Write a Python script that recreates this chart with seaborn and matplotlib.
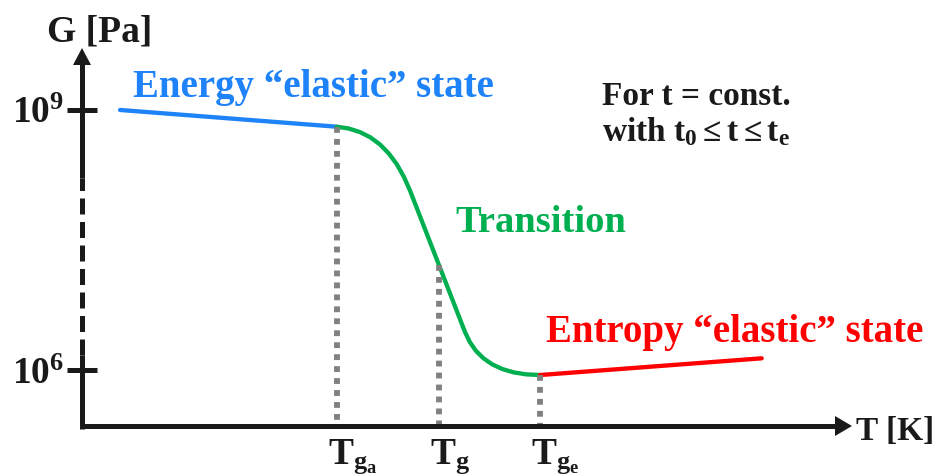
import numpy as np
import pandas as pd
import matplotlib
matplotlib.use("Agg")
import matplotlib.pyplot as plt
import seaborn as sns

# ---------------- data (T in arbitrary units, log10 of G in Pa) ----------------
T_energy = [4.94, 33.08]
logG_energy = [9.0, 8.807]

T_transition = [33.08, 34.64, 36.10, 37.45, 38.70, 39.83, 40.86, 41.78, 42.60,
                49.74, 50.37, 51.16, 52.13, 53.26, 54.56, 56.03, 57.67, 59.48]
logG_transition = [8.807, 8.786, 8.745, 8.684, 8.602, 8.499, 8.377, 8.233, 8.070,
                   6.438, 6.322, 6.221, 6.136, 6.066, 6.012, 5.973, 5.950, 5.942]

T_entropy = [59.48, 88.27]
logG_entropy = [5.942, 6.135]

T_marks = [33.08, 46.36, 59.48]
T_mark_labels = [r"$T_{g_a}$", r"$T_g$", r"$T_{g_e}$"]

y_ticks = [6, 9]
y_tick_labels = [r"$10^6$", r"$10^9$"]

label_energy = "Energy \u201celastic\u201d state"
label_transition = "Transition"
label_entropy = "Entropy \u201celastic\u201d state"
note_line1 = "For t = const."
note_line2 = r"with $t_0 \leq t \leq t_e$"
y_title = "G [Pa]"
x_title = "T [K]"

# ---------------- style ----------------
sns.set_theme(style="white")
plt.rcParams["font.family"] = ["Liberation Serif", "DejaVu Serif"]
plt.rcParams["font.weight"] = "bold"
plt.rcParams["mathtext.fontset"] = "custom"
plt.rcParams["mathtext.rm"] = "Liberation Serif:bold"
plt.rcParams["mathtext.it"] = "Liberation Serif:bold"
plt.rcParams["mathtext.bf"] = "Liberation Serif:bold"

BLUE = "#1E82F8"
GREEN = "#00B050"
RED = "#FF0000"
GRAY = "#808080"

W, H = 944, 475
fig = plt.figure(figsize=(W / 100, H / 100), dpi=100)
# origin at pixel (82, 426), x arrow tip at 852, y arrow tip at 48
ax = fig.add_axes([82 / W, (H - 426) / H, 770 / W, 378 / H])
x_min, x_max = 0, 100
y_min, y_max = 5.354, 9.715
ax.set_xlim(x_min, x_max)
ax.set_ylim(y_min, y_max)
for s in ax.spines.values():
    s.set_visible(False)

px_x = 770 / (x_max - x_min)   # pixels per x unit
px_y = 378 / (y_max - y_min)   # pixels per y unit

# ---------------- curves ----------------
lw_curve = 3.1
sns.lineplot(x=T_energy, y=logG_energy, ax=ax, color=BLUE, lw=lw_curve, sort=False, zorder=3)
sns.lineplot(x=T_transition, y=logG_transition, ax=ax, color=GREEN, lw=lw_curve, sort=False, zorder=3)
sns.lineplot(x=T_entropy, y=logG_entropy, ax=ax, color=RED, lw=lw_curve, sort=False, zorder=3)

# ---------------- dotted verticals ----------------
tops = [logG_energy[-1],
        float(np.interp(T_marks[1], T_transition, logG_transition)),
        logG_entropy[0]]
for xm, top in zip(T_marks, tops):
    ax.plot([xm, xm], [top, y_min], color=GRAY, lw=4.2, linestyle=(0, (1, 1.05)),
            solid_capstyle="butt", dash_capstyle="butt", zorder=4, clip_on=False)

# ---------------- axes with arrows ----------------
lw_axis = 3.6
arrow_len = 17  # px
ybreak_lo = 6 + 15 / px_y     # start of dashed part (pixel 355)
ybreak_hi = 9 - 68 / px_y     # end of dashed part (pixel 178)
y_arrow_base = y_max - arrow_len / px_y
x_arrow_base = x_max - arrow_len / px_x

ax.plot([x_min, x_min], [y_min - 2.5 / px_y, ybreak_lo], color="k", lw=lw_axis,
        solid_capstyle="butt", clip_on=False, zorder=5)
ax.plot([x_min, x_min], [ybreak_lo, ybreak_hi], color="k", lw=lw_axis,
        linestyle=(0, (3.2, 1.5)), dash_capstyle="butt", clip_on=False, zorder=5)
ax.plot([x_min, x_min], [ybreak_hi, y_arrow_base + 1 / px_y], color="k", lw=lw_axis,
        solid_capstyle="butt", clip_on=False, zorder=5)
ax.plot([x_min - 2.5 / px_x, x_arrow_base + 1 / px_x], [y_min, y_min], color="k", lw=lw_axis,
        solid_capstyle="butt", clip_on=False, zorder=5)

ax.fill([x_min - 9 / px_x, x_min + 9 / px_x, x_min],
        [y_arrow_base, y_arrow_base, y_max], color="k", lw=0, clip_on=False, zorder=6)
ax.fill([x_arrow_base, x_arrow_base, x_max],
        [y_min - 10 / px_y, y_min + 10 / px_y, y_min], color="k", lw=0, clip_on=False, zorder=6)

# ---------------- ticks ----------------
ax.set_yticks(y_ticks)
ax.set_yticklabels(y_tick_labels)
ax.tick_params(axis="y", left=True, direction="inout", length=21.6, width=lw_axis,
               color="k", labelsize=27, pad=2, labelcolor="k")
ax.set_xticks([])

for xm, lab in zip(T_marks, T_mark_labels):
    ax.annotate(lab, xy=(xm, y_min), xytext=(-6.5, -8), textcoords="offset points",
                ha="left", va="top", fontsize=27, color="k", annotation_clip=False)

# ---------------- texts ----------------
ax.text(x_min + 18 / px_x, 9 + 68.3 / px_y, y_title, ha="center", va="baseline",
        fontsize=27, color="k", clip_on=False)
ax.text(x_max + 3.5 / px_x, 9 - 330 / px_y, x_title, ha="left", va="baseline",
        fontsize=24, color="k", clip_on=False)

ax.text(30.0, 9.153, label_energy, ha="center", va="baseline", fontsize=28, color=BLUE)
ax.text(59.6, 7.596, label_transition, ha="center", va="baseline", fontsize=27.7, color=GREEN)
ax.text(84.7, 6.327, label_entropy, ha="center", va="baseline", fontsize=28.0, color=RED,
        clip_on=False)
ax.text(67.49, 9.058, note_line1, ha="left", va="baseline", fontsize=24, color="k")
ax.text(67.49, 8.634, note_line2, ha="left", va="baseline", fontsize=24, color="k")

fig.savefig("out.png", dpi=100, facecolor="white")
